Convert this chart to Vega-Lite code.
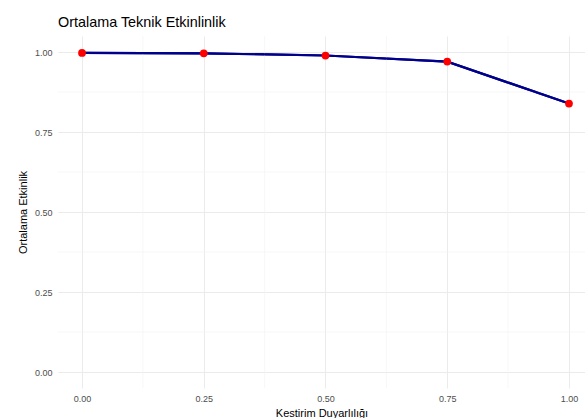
{
  "$schema": "https://vega.github.io/schema/vega-lite/v6.json",
  "autosize": {"type": "none"},
  "padding": {"left": 58, "top": 36, "right": 0, "bottom": 30},
  "width": 527,
  "height": 352,
  "background": "white",
  "title": {
    "text": "Ortalama Teknik Etkinlinlik",
    "anchor": "start",
    "frame": "group",
    "font": "Liberation Sans",
    "fontSize": 14.4,
    "fontWeight": "normal",
    "color": "black",
    "baseline": "alphabetic",
    "offset": 9,
    "dy": 15
  },
  "config": {
    "view": {"stroke": null},
    "axis": {
      "labelFont": "Liberation Sans",
      "titleFont": "Liberation Sans",
      "labelFontSize": 9,
      "labelColor": "#4D4D4D",
      "titleFontSize": 11,
      "titleFontWeight": "normal",
      "titleColor": "black",
      "domain": false,
      "ticks": false,
      "gridColor": "#EBEBEB",
      "gridWidth": 1
    }
  },
  "data": {
    "values": [
      {"duyarlilik": 0.0, "etkinlik": 0.997},
      {"duyarlilik": 0.25, "etkinlik": 0.996},
      {"duyarlilik": 0.5, "etkinlik": 0.989},
      {"duyarlilik": 0.75, "etkinlik": 0.970},
      {"duyarlilik": 1.0, "etkinlik": 0.839}
    ]
  },
  "layer": [
    {
      "mark": {"type": "line", "color": "#00008B", "strokeWidth": 2.2},
      "encoding": {
        "x": {
          "field": "duyarlilik",
          "type": "quantitative",
          "scale": {"domain": [-0.0493, 1.0329], "nice": false, "zero": false},
          "axis": {
            "title": "Kestirim Duyarlılığı",
            "values": [0, 0.25, 0.5, 0.75, 1],
            "format": ".2f",
            "labelPadding": 6,
            "titlePadding": 4
          }
        },
        "y": {
          "field": "etkinlik",
          "type": "quantitative",
          "scale": {"domain": [-0.05, 1.05], "nice": false, "zero": false},
          "axis": {
            "title": "Ortalama Etkinlik",
            "values": [0, 0.25, 0.5, 0.75, 1],
            "format": ".2f",
            "labelPadding": 6,
            "titlePadding": 6
          }
        }
      }
    },
    {
      "mark": {"type": "rule", "stroke": "#F2F2F2", "strokeWidth": 0.6},
      "data": {"values": [{"v": 0.125}, {"v": 0.375}, {"v": 0.625}, {"v": 0.875}]},
      "encoding": {
        "x": {"field": "v", "type": "quantitative", "title": "Kestirim Duyarlılığı"}
      }
    },
    {
      "mark": {"type": "rule", "stroke": "#F2F2F2", "strokeWidth": 0.6},
      "data": {"values": [{"v": 0.125}, {"v": 0.375}, {"v": 0.625}, {"v": 0.875}]},
      "encoding": {
        "y": {"field": "v", "type": "quantitative", "title": "Ortalama Etkinlik"}
      }
    },
    {
      "mark": {"type": "line", "color": "#00008B", "strokeWidth": 2.2},
      "encoding": {
        "x": {"field": "duyarlilik", "type": "quantitative", "title": "Kestirim Duyarlılığı"},
        "y": {"field": "etkinlik", "type": "quantitative", "title": "Ortalama Etkinlik"}
      }
    },
    {
      "mark": {"type": "circle", "color": "#FF0000", "opacity": 1, "size": 60},
      "encoding": {
        "x": {"field": "duyarlilik", "type": "quantitative", "title": "Kestirim Duyarlılığı"},
        "y": {"field": "etkinlik", "type": "quantitative", "title": "Ortalama Etkinlik"}
      }
    }
  ]
}
